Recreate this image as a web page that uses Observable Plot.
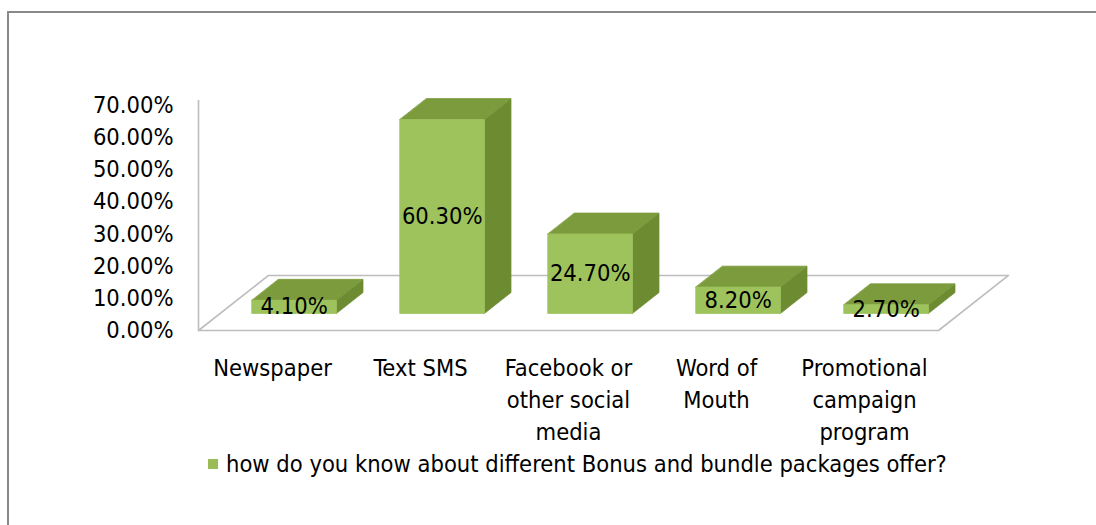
<!DOCTYPE html>
<html>
<head>
<meta charset="utf-8">
<script src="https://cdn.jsdelivr.net/npm/d3@7"></script>
<script src="https://cdn.jsdelivr.net/npm/@observablehq/plot@0.6"></script>
<style>
  html, body { margin: 0; padding: 0; background: #fff; overflow: hidden; width: 1096px; height: 525px; }
  #frame { position: absolute; left: 7px; top: 11px; width: 1200px; height: 700px; border: 2px solid #898989; box-sizing: border-box; }
  #chart { position: absolute; left: 0; top: 0; }
  #legend { position: absolute; left: 208px; top: 450px; font-family: "Liberation Sans Narrow", "Arial Narrow", "DejaVu Sans Condensed", sans-serif; font-size: 23.5px; color: #000; display: flex; align-items: center; white-space: nowrap; }
  #legend .sw { width: 10px; height: 10px; background: #9bbb59; margin-right: 8px; }
</style>
</head>
<body>
<div id="frame"></div>
<div id="chart"></div>
<div id="legend"><span class="sw"></span><span id="legtext"></span></div>
<script>
// ---- data ----
const categories = ["Newspaper", "Text SMS", "Facebook or\nother social\nmedia", "Word of\nMouth", "Promotional\ncampaign\nprogram"];
const values = [4.1, 60.3, 24.7, 8.2, 2.7];
const valueLabels = ["4.10%", "60.30%", "24.70%", "8.20%", "2.70%"];
const yTicks = [0, 10, 20, 30, 40, 50, 60, 70];
const seriesName = "how do you know about different Bonus and bundle packages offer?";

// ---- projection (oblique 3D look) ----
const kx = 0.473;   // x units per unit depth
const ky = 17.1;    // y units per unit depth
const d0 = 0.31, d1 = 0.69; // bar front/back depth
const bw = 0.57;    // bar width in category units
const proj = (x, y, d) => ({x: x + d * kx, y: y + d * ky});
const yMax = 71.5;
const n = categories.length;

// floor outline and left wall edge
const floor = [proj(-0.5, 0, 0), proj(n - 0.5, 0, 0), proj(n - 0.5, 0, 1), proj(-0.5, 0, 1)];
const wall = [proj(-0.5, 0, 0), proj(-0.5, yMax, 0)];

// bar faces
const faces = [];
values.forEach((v, i) => {
  const xl = i - bw / 2, xr = i + bw / 2;
  const side = [proj(xr, 0, d0), proj(xr, 0, d1), proj(xr, v, d1), proj(xr, v, d0)];
  const top = [proj(xl, v, d0), proj(xr, v, d0), proj(xr, v, d1), proj(xl, v, d1)];
  const front = [proj(xl, 0, d0), proj(xr, 0, d0), proj(xr, v, d0), proj(xl, v, d0)];
  side.forEach(p => faces.push({...p, id: `s${i}`, kind: "side"}));
  top.forEach(p => faces.push({...p, id: `t${i}`, kind: "top"}));
  front.forEach(p => faces.push({...p, id: `f${i}`, kind: "front"}));
});
const faceColor = {side: "#6d8c31", top: "#7b9b3d", front: "#9ec35c"};

const labelData = values.map((v, i) => ({...proj(i, v / 2, d0), label: valueLabels[i]}));
const catData = categories.map((c, i) => ({x: i, y: 0, label: c}));

const font = `"Liberation Sans Narrow", "Arial Narrow", "DejaVu Sans Condensed", sans-serif`;

const chart = Plot.plot({
  width: 1096,
  height: 450,
  marginLeft: 198,
  marginRight: 158,
  marginTop: 100,
  marginBottom: 120,
  style: {fontFamily: font, fontSize: "24px", color: "#000", background: "transparent", overflow: "visible"},
  x: {domain: [-0.5, n - 0.5], axis: null},
  y: {domain: [0, yMax], axis: null},
  marks: [
    Plot.line(floor, {x: "x", y: "y", curve: "linear-closed", stroke: "#bdbdbd", strokeWidth: 1.6}),
    Plot.line(wall, {x: "x", y: "y", stroke: "#bdbdbd", strokeWidth: 1.6}),
    Plot.axisY({ticks: yTicks, tickFormat: d => d.toFixed(2) + "%", tickSize: 0, tickPadding: 25, fontSize: 23.5, fill: "#000", anchor: "left", label: null}),
    Plot.line(faces, {x: "x", y: "y", z: "id", curve: "linear-closed", fill: d => faceColor[d.kind], stroke: d => faceColor[d.kind], strokeWidth: 0.8}),
    Plot.text(labelData, {x: "x", y: "y", text: "label", fontSize: 23.5, fill: "#000"}),
    Plot.text(catData, {x: "x", y: "y", text: "label", fontSize: 23.5, fill: "#000", lineAnchor: "top", dy: 22, lineHeight: 1.38})
  ]
});
document.getElementById("chart").appendChild(chart);
document.getElementById("legtext").textContent = seriesName;
</script>
</body>
</html>
